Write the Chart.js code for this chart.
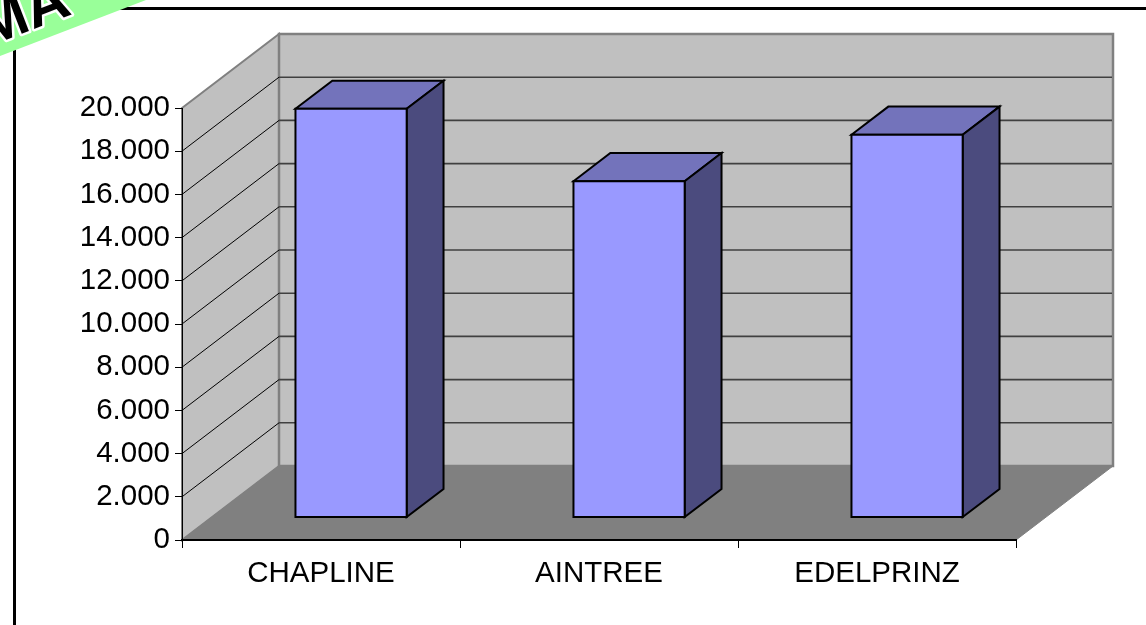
<!DOCTYPE html>
<html>
<head>
<meta charset="utf-8">
<script src="https://cdn.jsdelivr.net/npm/chart.js@4.4.0/dist/chart.umd.min.js"></script>
<style>
  html, body { margin: 0; padding: 0; background: #fff; }
  canvas { display: block; }
</style>
</head>
<body>
<canvas id="grafico" width="1146" height="625"></canvas>
<script>
// datos
var categorias = ['CHAPLINE', 'AINTREE', 'EDELPRINZ'];
var valores = [18900, 15550, 17700];
var ejeMin = 0;
var ejeMax = 20000;
var paso = 2000;

// geometria 3D
var prof = {x: 97, y: -74};      // desplazamiento de la pared del fondo
var barraAncho = 0.40;           // fraccion del hueco de cada categoria
var barraZ0 = 0.31, barraZ1 = 0.69;

function formatoMiles(v) {
  return String(v).replace(/\B(?=(\d{3})+(?!\d))/g, '.');
}

function poligono(ctx, pts, relleno, borde, grosor) {
  ctx.beginPath();
  ctx.moveTo(pts[0][0], pts[0][1]);
  for (var i = 1; i < pts.length; i++) ctx.lineTo(pts[i][0], pts[i][1]);
  ctx.closePath();
  if (relleno) { ctx.fillStyle = relleno; ctx.fill(); }
  if (borde) { ctx.strokeStyle = borde; ctx.lineWidth = grosor || 1; ctx.stroke(); }
}

var paredes = {
  id: 'paredes',
  beforeDraw: function (chart) {
    var ctx = chart.ctx, a = chart.chartArea, ys = chart.scales.y;
    ctx.save();
    ctx.fillStyle = '#fff';
    ctx.fillRect(0, 0, chart.width, chart.height);

    // marco exterior
    ctx.strokeStyle = '#000';
    ctx.lineWidth = 3;
    ctx.strokeRect(14.5, 8.5, chart.width + 20, chart.height + 20);

    var L = a.left, R = a.right, T = a.top, B = a.bottom;
    var dx = prof.x, dy = prof.y;

    // pared lateral
    poligono(ctx, [[L, T], [L + dx, T + dy], [L + dx, B + dy], [L, B]], '#c0c0c0', '#808080', 2);
    // pared del fondo
    poligono(ctx, [[L + dx, T + dy], [R + dx, T + dy], [R + dx, B + dy], [L + dx, B + dy]], '#c0c0c0', '#808080', 2.5);
    // suelo
    poligono(ctx, [[L, B], [L + dx, B + dy], [R + dx, B + dy], [R, B]], '#808080', '#808080', 1);

    // lineas de division
    for (var v = ejeMin + paso; v < ejeMax; v += paso) {
      var y = ys.getPixelForValue(v);
      ctx.strokeStyle = '#404040';
      ctx.lineWidth = 1.6;
      ctx.beginPath();
      ctx.moveTo(L + dx, y + dy);
      ctx.lineTo(R + dx - 1, y + dy);
      ctx.stroke();
      ctx.strokeStyle = '#000';
      ctx.lineWidth = 1;
      ctx.beginPath();
      ctx.moveTo(L, y);
      ctx.lineTo(L + dx, y + dy);
      ctx.stroke();
    }
    ctx.restore();
  },
  afterDatasetsDraw: function (chart) {
    var ctx = chart.ctx, xs = chart.scales.x, ys = chart.scales.y;
    var hueco = xs.width / categorias.length;
    var w = hueco * barraAncho;
    var ox0 = prof.x * barraZ0, oy0 = prof.y * barraZ0;
    var ox1 = prof.x * barraZ1, oy1 = prof.y * barraZ1;
    ctx.save();
    ctx.lineJoin = 'miter';
    for (var i = 0; i < valores.length; i++) {
      var cx = xs.getPixelForValue(i);
      var x0 = cx - w / 2 + ox0, x1 = cx + w / 2 + ox0;
      var yb = ys.getPixelForValue(ejeMin) + oy0;
      var yt = ys.getPixelForValue(valores[i]) + oy0;
      var ex = ox1 - ox0, ey = oy1 - oy0;
      // cara superior
      poligono(ctx, [[x0, yt], [x0 + ex, yt + ey], [x1 + ex, yt + ey], [x1, yt]], '#7373bb', '#000', 2);
      // cara lateral
      poligono(ctx, [[x1, yt], [x1 + ex, yt + ey], [x1 + ex, yb + ey], [x1, yb]], '#4b4b7e', '#000', 2);
      // cara frontal
      poligono(ctx, [[x0, yt], [x1, yt], [x1, yb], [x0, yb]], '#9999ff', '#000', 2);
    }
    ctx.restore();
  },
  afterDraw: function (chart) {
    // sello de la esquina
    var ctx = chart.ctx;
    var ang = Math.atan2(56, 146);
    ctx.save();
    ctx.translate(0, 56);
    ctx.rotate(-ang);
    ctx.fillStyle = '#99ff99';
    ctx.fillRect(-60, -90, 320, 90);
    ctx.font = 'bold 60px "Liberation Sans", Arial, sans-serif';
    ctx.textAlign = 'left';
    ctx.textBaseline = 'alphabetic';
    ctx.lineWidth = 5;
    ctx.strokeStyle = '#fff';
    ctx.lineJoin = 'round';
    ctx.strokeText('MA', -10, -13);
    ctx.fillStyle = '#000';
    ctx.fillText('MA', -10, -13);
    ctx.restore();
  }
};

new Chart(document.getElementById('grafico'), {
  type: 'bar',
  data: {
    labels: categorias,
    datasets: [{
      label: 'Valores',
      data: valores,
      backgroundColor: 'rgba(0,0,0,0)',
      borderWidth: 0
    }]
  },
  options: {
    responsive: false,
    animation: false,
    devicePixelRatio: 1,
    layout: { padding: { top: 108, right: 130, left: 0, bottom: 0 } },
    plugins: {
      legend: { display: false },
      tooltip: { enabled: false }
    },
    scales: {
      x: {
        afterFit: function (s) { s.height = 85; },
        grid: { offset: true, drawOnChartArea: false, drawTicks: true, tickLength: 8, color: '#000', lineWidth: 1 },
        border: { display: true, color: '#000', width: 2 },
        ticks: { color: '#000', padding: 8, font: { family: '"Liberation Sans", Arial, sans-serif', size: 29.5 } }
      },
      y: {
        min: ejeMin,
        max: ejeMax,
        afterFit: function (s) { s.width = 182; },
        grid: { drawOnChartArea: false, drawTicks: true, tickLength: 7, color: '#000', lineWidth: 1 },
        border: { display: true, color: '#000', width: 1 },
        ticks: {
          stepSize: paso,
          color: '#000',
          padding: 5,
          font: { family: '"Liberation Sans", Arial, sans-serif', size: 29.5 },
          callback: function (v) { return formatoMiles(v); }
        }
      }
    }
  },
  plugins: [paredes]
});
</script>
</body>
</html>
